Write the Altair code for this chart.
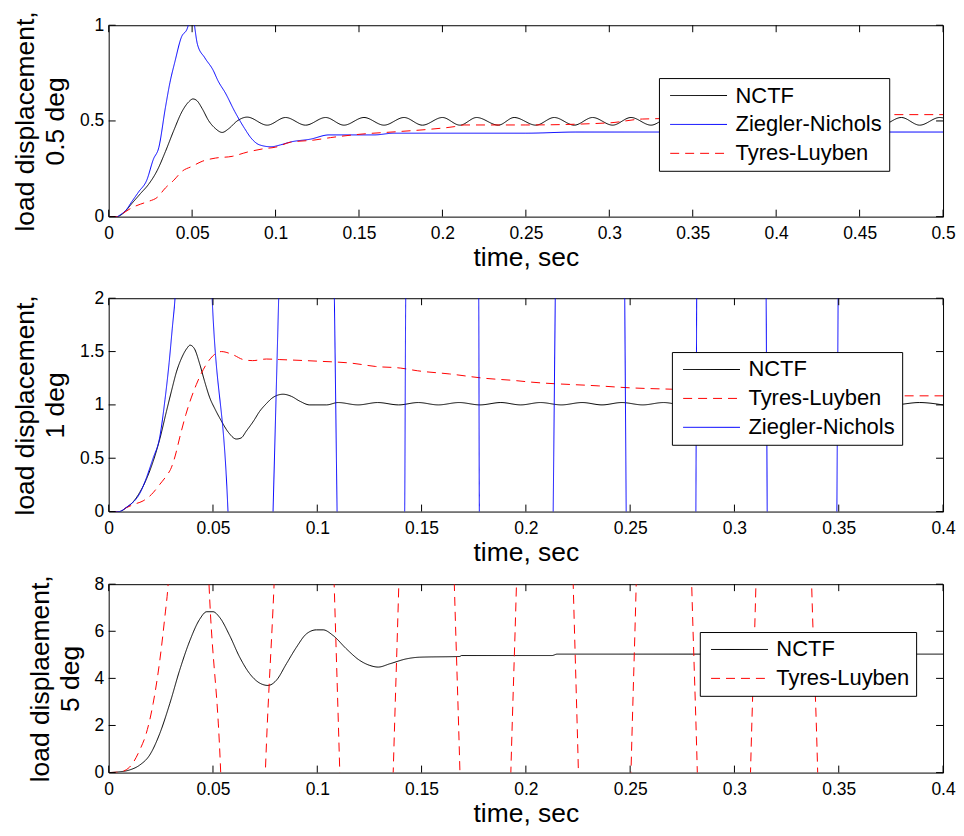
import altair as alt
import pandas as pd

FONT = "Liberation Sans"

# ---------------- Panel 1: 0.5 deg ----------------
p1_domain = ["NCTF", "Ziegler-Nichols", "Tyres-Luyben"]
p1_xticks = [0, 0.05, 0.1, 0.15, 0.2, 0.25, 0.3, 0.35, 0.4, 0.45, 0.5]
p1_yticks = [0, 0.5, 1]

p1_nctf_t = [0, 0.005, 0.009, 0.014, 0.019, 0.024, 0.029, 0.034, 0.039, 0.044,
             0.048, 0.0505, 0.053, 0.056, 0.060, 0.064, 0.068, 0.072, 0.077, 0.083,
             0.095, 0.106, 0.118, 0.130, 0.141, 0.153, 0.165, 0.177, 0.188, 0.200,
             0.2105, 0.2205, 0.2335, 0.243, 0.256, 0.267, 0.279, 0.290, 0.302, 0.313,
             0.325, 0.336, 0.348, 0.359, 0.371, 0.382, 0.394, 0.406, 0.417, 0.429,
             0.440, 0.452, 0.463, 0.475, 0.486, 0.498, 0.500]
p1_nctf_y = [0, 0, 0.02, 0.07, 0.12, 0.17, 0.24, 0.34, 0.45, 0.55,
             0.60, 0.615, 0.605, 0.565, 0.50, 0.46, 0.44, 0.46, 0.50, 0.52,
             0.478, 0.518, 0.478, 0.518, 0.478, 0.518, 0.478, 0.518, 0.478, 0.518,
             0.478, 0.518, 0.478, 0.518, 0.478, 0.518, 0.478, 0.518, 0.478, 0.518,
             0.478, 0.518, 0.478, 0.518, 0.478, 0.518, 0.478, 0.518, 0.478, 0.518,
             0.478, 0.518, 0.478, 0.518, 0.478, 0.518, 0.516]

p1_zn_t = [0, 0.005, 0.007, 0.010, 0.014, 0.018, 0.0228, 0.0268, 0.030, 0.034,
           0.0367, 0.0397, 0.0437, 0.0467, 0.050, 0.0532, 0.0576, 0.0626, 0.0655, 0.070,
           0.0755, 0.0815, 0.0854, 0.0904, 0.0973, 0.103, 0.109, 0.121, 0.132, 0.159,
           0.171, 0.25, 0.28, 0.5]
p1_zn_y = [0, 0, 0.01, 0.03, 0.08, 0.13, 0.19, 0.30, 0.36, 0.57,
           0.70, 0.81, 0.94, 0.975, 1.05, 0.90, 0.83, 0.765, 0.71, 0.645,
           0.55, 0.46, 0.41, 0.375, 0.365, 0.375, 0.39, 0.405, 0.427, 0.427,
           0.436, 0.436, 0.442, 0.442]

p1_tl_t = [0, 0.005, 0.009, 0.014, 0.019, 0.024, 0.029, 0.034, 0.039, 0.044,
           0.050, 0.056, 0.064, 0.074, 0.083, 0.093, 0.100, 0.109, 0.123, 0.133,
           0.150, 0.173, 0.193, 0.207, 0.213, 0.250, 0.300, 0.320, 0.400, 0.470,
           0.500]
p1_tl_y = [0, 0, 0.02, 0.047, 0.065, 0.08, 0.10, 0.15, 0.19, 0.237,
           0.263, 0.289, 0.306, 0.315, 0.337, 0.355, 0.363, 0.389, 0.40, 0.413,
           0.43, 0.444, 0.457, 0.47, 0.479, 0.479, 0.49, 0.51, 0.52, 0.533,
           0.533]

# ---------------- Panel 2: 1 deg ----------------
p2_domain = ["NCTF", "Tyres-Luyben", "Ziegler-Nichols"]
p2_xticks = [0, 0.05, 0.1, 0.15, 0.2, 0.25, 0.3, 0.35, 0.4]
p2_yticks = [0, 0.5, 1, 1.5, 2]

p2_nctf_t = [0, 0.005, 0.0085, 0.0117, 0.0149, 0.018, 0.0213, 0.0245, 0.0277, 0.0301,
             0.0325, 0.0352, 0.0375, 0.039, 0.041, 0.0437, 0.046, 0.0485, 0.051, 0.054,
             0.0575, 0.0612, 0.0635, 0.066, 0.0695, 0.0724, 0.0755, 0.0788, 0.0836, 0.0876,
             0.0916, 0.0964, 0.1044,
             0.110, 0.1195, 0.129, 0.139, 0.1484, 0.158, 0.168, 0.178, 0.188, 0.1975,
             0.207, 0.217, 0.227, 0.2365, 0.246, 0.256, 0.266, 0.2755, 0.285, 0.295,
             0.305, 0.3145, 0.324, 0.334, 0.344, 0.3535, 0.363, 0.376, 0.3886, 0.400]
p2_nctf_y = [0, 0, 0.037, 0.09, 0.18, 0.30, 0.47, 0.68, 0.94, 1.13,
             1.31, 1.45, 1.53, 1.56, 1.53, 1.38, 1.22, 1.065, 0.96, 0.85,
             0.74, 0.68, 0.69, 0.755, 0.85, 0.94, 1.01, 1.07, 1.10, 1.08,
             1.035, 1.0, 1.0,
             1.022, 1.0, 1.022, 1.0, 1.022, 1.0, 1.022, 1.0, 1.022, 1.0,
             1.022, 1.0, 1.022, 1.0, 1.022, 1.0, 1.022, 1.0, 1.022, 1.0,
             1.022, 1.0, 1.022, 1.0, 1.022, 1.0, 1.022, 1.0, 1.022, 1.0]

p2_tl_t = [0, 0.005, 0.0085, 0.0125, 0.0165, 0.0205, 0.0245, 0.0275, 0.030, 0.032,
           0.034, 0.037, 0.042, 0.0468, 0.0516, 0.054, 0.0596, 0.0645, 0.069, 0.0756,
           0.082, 0.100, 0.117, 0.128, 0.140, 0.148, 0.1635, 0.180, 0.1955, 0.200,
           0.235, 0.250, 0.270, 0.300, 0.350, 0.380, 0.400]
p2_tl_y = [0, 0, 0.037, 0.07, 0.10, 0.16, 0.255, 0.33, 0.41, 0.53,
           0.69, 0.91, 1.19, 1.38, 1.485, 1.50, 1.47, 1.425, 1.415, 1.43,
           1.425, 1.41, 1.39, 1.36, 1.345, 1.32, 1.29, 1.25, 1.227, 1.218,
           1.178, 1.16, 1.147, 1.13, 1.10, 1.085, 1.085]

p2_zn_t = [0, 0.005, 0.0085, 0.0149, 0.0213, 0.0245, 0.027, 0.029, 0.0305, 0.0318,
           0.040, 0.0496, 0.0572, 0.068, 0.0788, 0.0815, 0.095, 0.1082, 0.1095, 0.126,
           0.1419, 0.1424, 0.160, 0.1774, 0.1777, 0.195, 0.2131, 0.2141, 0.231, 0.2474,
           0.2481, 0.265, 0.2815, 0.2819, 0.298, 0.3152, 0.3157, 0.332, 0.3491, 0.3497,
           0.355]
p2_zn_y = [0, 0, 0.04, 0.17, 0.50, 0.70, 1.05, 1.40, 1.72, 2.0,
           8, 2.0, 0.0, -8, 0.0, 2.0, 12, 2.0, 0.0, -16,
           0.0, 2.0, 20, 2.0, 0.0, -24, 0.0, 2.0, 28, 2.0,
           0.0, -32, 0.0, 2.0, 36, 2.0, 0.0, -40, 0.0, 2.0,
           20]

# ---------------- Panel 3: 5 deg ----------------
p3_domain = ["NCTF", "Tyres-Luyben"]
p3_xticks = [0, 0.05, 0.1, 0.15, 0.2, 0.25, 0.3, 0.35, 0.4]
p3_yticks = [0, 2, 4, 6, 8]

p3_nctf_t = [0, 0.005, 0.010, 0.0149, 0.0197, 0.0245, 0.0293, 0.034, 0.0389, 0.0437,
             0.047, 0.050, 0.0532, 0.058, 0.0628, 0.0676, 0.0724, 0.0764, 0.0804, 0.0852,
             0.090, 0.0948, 0.0996, 0.1028, 0.1076, 0.114, 0.1204, 0.1252, 0.1292, 0.1348,
             0.1428, 0.1492, 0.1684, 0.169, 0.2125, 0.215, 0.400]
p3_nctf_y = [0, 0.03, 0.11, 0.32, 0.75, 1.66, 2.93, 4.34, 5.6, 6.52,
             6.83, 6.83, 6.59, 5.82, 4.9, 4.2, 3.8, 3.70, 3.92, 4.62,
             5.32, 5.89, 6.06, 6.06, 5.82, 5.25, 4.76, 4.55, 4.48, 4.62,
             4.83, 4.9, 4.93, 4.97, 4.97, 5.03, 5.03]

p3_tl_t = [0, 0.005, 0.010, 0.0149, 0.018, 0.0213, 0.0245, 0.0269, 0.0285, 0.038,
           0.0481, 0.0537, 0.0644, 0.0751, 0.0793, 0.094, 0.1081, 0.1108, 0.1236, 0.1364,
           0.1391, 0.1524, 0.1657, 0.1684, 0.1806, 0.1928, 0.1955, 0.209, 0.2227, 0.2252,
           0.2378, 0.2504, 0.2529, 0.266, 0.2795, 0.2822, 0.295, 0.3077, 0.3103, 0.3236,
           0.337, 0.3399, 0.352]
p3_tl_y = [0, 0.02, 0.23, 0.96, 1.66, 2.93, 4.76, 6.59, 8.0, 40,
           8.0, 0.0, -40, 0.0, 8.0, 48, 8.0, 0.0, -48, 0.0,
           8.0, 56, 8.0, 0.0, -56, 0.0, 8.0, 64, 8.0, 0.0,
           -64, 0.0, 8.0, 72, 8.0, 0.0, -72, 0.0, 8.0, 80,
           8.0, 0.0, -80]

COLORS = {"NCTF": "#000000", "Ziegler-Nichols": "#0000ff", "Tyres-Luyben": "#ff0000"}
DASHES = {"NCTF": [1, 0], "Ziegler-Nichols": [1, 0], "Tyres-Luyben": [9, 6]}
TICK_LEN = 7


def frame(series):
    rows = []
    for name, (ts, ys) in series.items():
        for i, (t, y) in enumerate(zip(ts, ys)):
            rows.append({"series": name, "t": t, "y": y, "i": i})
    return pd.DataFrame(rows)


def panel(df, domain, xmax, xticks, ymax, yticks, ytitle, w, h, lx, ly, top_extent=0):
    xs = alt.Scale(domain=[0, xmax], nice=False, zero=False)
    ys = alt.Scale(domain=[0, ymax], nice=False, zero=False)
    leg = alt.Legend(title=None, orient="none", legendX=lx, legendY=ly,
                     symbolType="M-3,0H3", symbolSize=361, symbolStrokeWidth=1,
                     symbolOffset=22.3,
                     labelFont=FONT, labelFontSize=22, labelColor="black",
                     labelOffset=26, labelLimit=400,
                     strokeColor="black", fillColor="white", padding=6.5,
                     rowPadding=7, cornerRadius=0)
    common = dict(domain=False, ticks=False, tickSize=0, offset=0, grid=False)
    xaxis = alt.Axis(values=xticks, format="~g", labelFont=FONT, labelFontSize=17.5,
                     labelColor="black", labelPadding=8, labelFlush=False,
                     labelOverlap=False, title="time, sec", titleFont=FONT,
                     titleFontSize=26.5, titleFontWeight="normal", titleColor="black",
                     titlePadding=3, **common)
    yaxis = alt.Axis(values=yticks, format="~g", labelFont=FONT, labelFontSize=17.5,
                     labelColor="black", labelPadding=5, labelFlush=False,
                     labelOverlap=False, title=ytitle, titleFont=FONT,
                     titleFontSize=26.5, titleFontWeight="normal", titleColor="black",
                     titleLineHeight=30, titlePadding=10, **common)
    lines = alt.Chart(df).mark_line(clip=True, strokeWidth=1, interpolate="monotone").encode(
        x=alt.X("t:Q", scale=xs, axis=xaxis),
        y=alt.Y("y:Q", scale=ys, axis=yaxis),
        color=alt.Color("series:N", scale=alt.Scale(domain=domain, range=[COLORS[d] for d in domain]), legend=leg),
        strokeDash=alt.StrokeDash("series:N", scale=alt.Scale(domain=domain, range=[DASHES[d] for d in domain]), legend=leg),
        order="i:Q",
    )
    # inward tick marks on all four sides, placed at the tick values
    xt = pd.DataFrame({"v": xticks})
    yt = pd.DataFrame({"v": yticks})
    tk = dict(color="black", strokeWidth=1)
    x_bot = alt.Chart(xt).mark_rule(**tk).encode(
        x=alt.X("v:Q", scale=xs, axis=xaxis), y=alt.value(h - TICK_LEN), y2=alt.value(h))
    x_top = alt.Chart(xt).mark_rule(**tk).encode(
        x=alt.X("v:Q", scale=xs, axis=xaxis), y=alt.value(0), y2=alt.value(TICK_LEN))
    y_left = alt.Chart(yt).mark_rule(**tk).encode(
        y=alt.Y("v:Q", scale=ys, axis=yaxis), x=alt.value(0), x2=alt.value(TICK_LEN))
    y_right = alt.Chart(yt).mark_rule(**tk).encode(
        y=alt.Y("v:Q", scale=ys, axis=yaxis), x=alt.value(w - TICK_LEN), x2=alt.value(w))
    core = alt.layer(lines, x_bot, x_top, y_left, y_right)
    if not top_extent:
        return core.properties(width=w, height=h)
    spacer = alt.Chart(xt).mark_point(opacity=0).encode(
        x=alt.X("v:Q", scale=xs, axis=alt.Axis(orient="top", values=xticks, labels=False,
                                                title=None, minExtent=top_extent, **common)),
    )
    return alt.layer(core, spacer).resolve_axis(x="independent").properties(width=w, height=h)


df1 = frame({"NCTF": (p1_nctf_t, p1_nctf_y), "Ziegler-Nichols": (p1_zn_t, p1_zn_y),
             "Tyres-Luyben": (p1_tl_t, p1_tl_y)})
df2 = frame({"NCTF": (p2_nctf_t, p2_nctf_y), "Tyres-Luyben": (p2_tl_t, p2_tl_y),
             "Ziegler-Nichols": (p2_zn_t, p2_zn_y)})
df3 = frame({"NCTF": (p3_nctf_t, p3_nctf_y), "Tyres-Luyben": (p3_tl_t, p3_tl_y)})

c1 = panel(df1, p1_domain, 0.5, p1_xticks, 1, p1_yticks, ["load displacement,", "0.5 deg"], 837, 192, 552, 53)
c2 = panel(df2, p2_domain, 0.4, p2_xticks, 2, p2_yticks, ["load displacement,", "1 deg"], 837, 214, 565, 54, top_extent=18.4)
c3 = panel(df3, p3_domain, 0.4, p3_xticks, 8, p3_yticks, ["load displaement,", "5 deg"], 837, 189, 593, 48)

chart = alt.vconcat(c1, c2, c3, spacing=6.85).resolve_scale(
    x="independent", y="independent", color="independent", strokeDash="independent"
).properties(
    padding={"left": 4, "top": 1, "right": 0, "bottom": 0}, background="white"
).configure_view(stroke="black", strokeWidth=1)

chart.save("out.html", embed_options={"renderer": "svg", "actions": False})
